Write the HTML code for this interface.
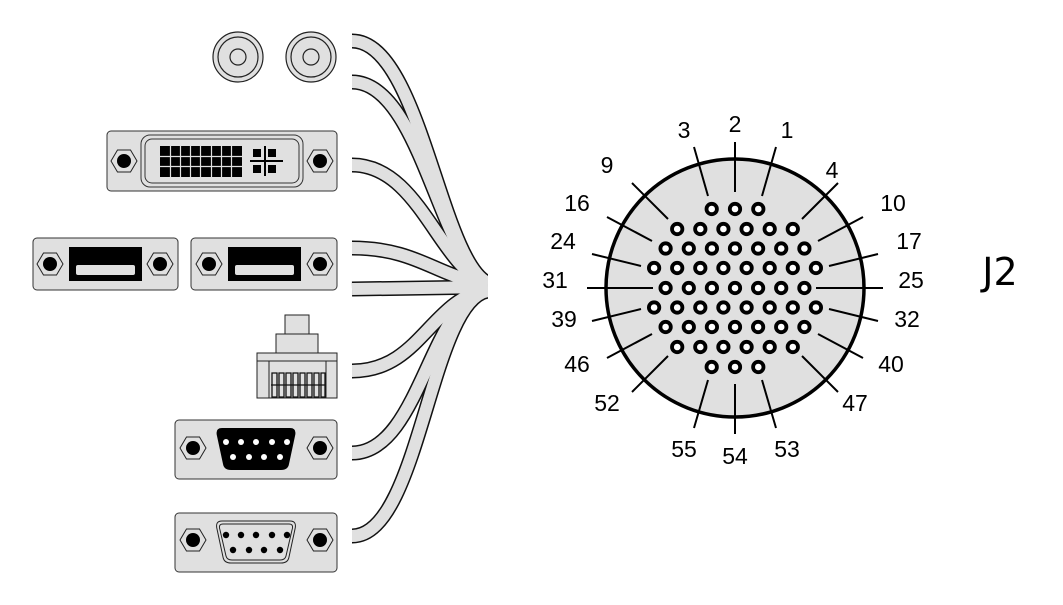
<!DOCTYPE html>
<html><head><meta charset="utf-8"><style>
html,body{margin:0;padding:0;background:#fff;}
svg{display:block;font-family:"Liberation Sans",sans-serif;}
</style></head><body>
<svg width="1063" height="605" viewBox="0 0 1063 605" xmlns="http://www.w3.org/2000/svg">
<defs>
<g id="hex"><polygon points="-13,0 -6.5,-11 6.5,-11 13,0 6.5,11 -6.5,11" fill="#e0e0e0" stroke="#222" stroke-width="1"/><circle r="7" fill="#000"/></g>
</defs>
<!-- cables -->
<g fill="none" stroke-linecap="butt">
<g stroke="#111" stroke-width="15">
<path d="M352,41 C420,41 440,260 488,283"/>
<path d="M352,82 C420,82 440,260 488,283"/>
<path d="M352,165 C420,165 440,270 488,283"/>
<path d="M352,248 C420,248 440,280 488,283"/>
<path d="M352,289 L488,287"/>
<path d="M352,371 C420,371 430,300 488,289"/>
<path d="M352,453 C420,453 430,300 488,290"/>
<path d="M352,536 C420,536 430,300 488,291"/>
</g>
<g stroke="#e0e0e0" stroke-width="12">
<path d="M352,41 C420,41 440,260 488,283"/>
<path d="M352,82 C420,82 440,260 488,283"/>
<path d="M352,165 C420,165 440,270 488,283"/>
<path d="M352,248 C420,248 440,280 488,283"/>
<path d="M352,289 L488,287"/>
<path d="M352,371 C420,371 430,300 488,289"/>
<path d="M352,453 C420,453 430,300 488,290"/>
<path d="M352,536 C420,536 430,300 488,291"/>
</g>
</g>
<rect x="488" y="270" width="20" height="30" fill="#fff"/>
<!-- coax -->
<g fill="#e0e0e0" stroke="#222" stroke-width="1.2">
<circle cx="238" cy="57" r="25"/><circle cx="238" cy="57" r="20"/><circle cx="238" cy="57" r="8"/>
<circle cx="311" cy="57" r="25"/><circle cx="311" cy="57" r="20"/><circle cx="311" cy="57" r="8"/>
</g>
<!-- DVI -->
<rect x="107" y="131" width="230" height="60" rx="4" fill="#e0e0e0" stroke="#333"/>
<rect x="141" y="135" width="162" height="52" rx="9" fill="#e0e0e0" stroke="#333"/>
<rect x="145" y="139" width="154" height="44" rx="7" fill="none" stroke="#333"/>
<use href="#hex" x="124" y="161"/><use href="#hex" x="320" y="161"/>
<rect x="160" y="146" width="82" height="31" fill="#000"/>
<g stroke="#e0e0e0" stroke-width="1.2">
<path d="M160,156.5H242M160,166.5H242"/>
<path d="M170.5,146V177M180.5,146V177M190.5,146V177M200.5,146V177M211.5,146V177M221.5,146V177M231.5,146V177"/>
</g>
<g fill="#000"><rect x="253" y="149" width="8" height="8"/><rect x="268" y="149" width="8" height="8"/><rect x="253" y="165" width="8" height="8"/><rect x="268" y="165" width="8" height="8"/><rect x="250" y="160" width="33" height="2"/><rect x="264" y="146" width="2" height="30"/></g>
<!-- DP -->
<rect x="33" y="238" width="145" height="52" rx="4" fill="#e0e0e0" stroke="#333"/>
<rect x="191" y="238" width="146" height="52" rx="4" fill="#e0e0e0" stroke="#333"/>
<use href="#hex" x="50" y="264"/><use href="#hex" x="160" y="264"/>
<use href="#hex" x="209" y="264"/><use href="#hex" x="320" y="264"/>
<rect x="69" y="247" width="73" height="34" fill="#000"/><rect x="76" y="265" width="59" height="10" rx="2" fill="#e0e0e0"/>
<rect x="228" y="247" width="73" height="34" fill="#000"/><rect x="235" y="265" width="59" height="10" rx="2" fill="#e0e0e0"/>
<!-- RJ45 -->
<g fill="#e0e0e0" stroke="#222" stroke-width="1">
<rect x="285" y="315" width="24" height="19"/>
<rect x="276" y="334" width="42" height="19"/>
<rect x="257" y="353" width="80" height="45"/>
<path d="M257,361H337M269,361V398M326,361V398"/>
</g>
<g fill="none" stroke="#111" stroke-width="1.3">
<path d="M272,373h5v24h-5zM279,373h5v24h-5zM286,373h5v24h-5zM293,373h5v24h-5zM300,373h5v24h-5zM307,373h5v24h-5zM314,373h5v24h-5zM321,373h4v24h-4z"/>
<path d="M271,385H325"/>
</g>
<!-- DB9 male -->
<rect x="175" y="420" width="162" height="59" rx="4" fill="#e0e0e0" stroke="#333"/>
<use href="#hex" x="193" y="448"/><use href="#hex" x="320" y="448"/>
<path d="M222,428 H290 Q297,428 295,436 L289,464 Q288,470 281,470 H231 Q224,470 223,464 L217,436 Q215,428 222,428Z" fill="#000"/>
<g fill="#fff"><circle cx="226" cy="442" r="3"/><circle cx="241" cy="442" r="3"/><circle cx="256" cy="442" r="3"/><circle cx="272" cy="442" r="3"/><circle cx="287" cy="442" r="3"/><circle cx="233" cy="457" r="3"/><circle cx="249" cy="457" r="3"/><circle cx="264" cy="457" r="3"/><circle cx="280" cy="457" r="3"/></g>
<!-- DB9 female -->
<rect x="175" y="513" width="162" height="59" rx="4" fill="#e0e0e0" stroke="#333"/>
<use href="#hex" x="193" y="540"/><use href="#hex" x="320" y="540"/>
<path d="M222,521 H290 Q297,521 295,529 L289,557 Q288,563 281,563 H231 Q224,563 223,557 L217,529 Q215,521 222,521Z" fill="none" stroke="#222" stroke-width="1"/>
<path d="M223,524 H289 Q294,524 292,530 L286,556 Q285,560 280,560 H232 Q227,560 226,556 L220,530 Q218,524 223,524Z" fill="none" stroke="#222" stroke-width="1"/>
<g fill="#000"><circle cx="226" cy="535" r="3.2"/><circle cx="241" cy="535" r="3.2"/><circle cx="256" cy="535" r="3.2"/><circle cx="272" cy="535" r="3.2"/><circle cx="287" cy="535" r="3.2"/><circle cx="233" cy="550" r="3.2"/><circle cx="249" cy="550" r="3.2"/><circle cx="264" cy="550" r="3.2"/><circle cx="280" cy="550" r="3.2"/></g>
<!-- J2 circle -->
<circle cx="735" cy="288" r="129" fill="#e0e0e0" stroke="#000" stroke-width="3.5"/>
<g stroke="#000" stroke-width="2">
<path d="M708,196L694,147M735,192V142M762,196L776,147M802,219L838,183M818,241L863,217M829,266L878,254M816,288H883M829,309L878,321M818,334L863,358M802,356L838,392M762,380L776,428M735,384V434M708,380L694,428M668,356L632,392M652,334L607,358M641,309L592,321M653,288H587M641,266L592,254M652,241L607,217M668,219L632,183"/>
</g>
<g fill="#fff" stroke="#000" stroke-width="3.8">
<circle cx="711.7" cy="209" r="5.2"/><circle cx="735" cy="209" r="5.2"/><circle cx="758.3" cy="209" r="5.2"/>
<circle cx="677.2" cy="229" r="5.2"/><circle cx="700.3" cy="229" r="5.2"/><circle cx="723.4" cy="229" r="5.2"/><circle cx="746.6" cy="229" r="5.2"/><circle cx="769.7" cy="229" r="5.2"/><circle cx="792.8" cy="229" r="5.2"/>
<circle cx="665.6" cy="248.5" r="5.2"/><circle cx="688.8" cy="248.5" r="5.2"/><circle cx="711.9" cy="248.5" r="5.2"/><circle cx="735" cy="248.5" r="5.2"/><circle cx="758.1" cy="248.5" r="5.2"/><circle cx="781.2" cy="248.5" r="5.2"/><circle cx="804.4" cy="248.5" r="5.2"/>
<circle cx="654.1" cy="268" r="5.2"/><circle cx="677.2" cy="268" r="5.2"/><circle cx="700.3" cy="268" r="5.2"/><circle cx="723.4" cy="268" r="5.2"/><circle cx="746.6" cy="268" r="5.2"/><circle cx="769.7" cy="268" r="5.2"/><circle cx="792.8" cy="268" r="5.2"/><circle cx="815.9" cy="268" r="5.2"/>
<circle cx="665.6" cy="288" r="5.2"/><circle cx="688.8" cy="288" r="5.2"/><circle cx="711.9" cy="288" r="5.2"/><circle cx="735" cy="288" r="5.2"/><circle cx="758.1" cy="288" r="5.2"/><circle cx="781.2" cy="288" r="5.2"/><circle cx="804.4" cy="288" r="5.2"/>
<circle cx="654.1" cy="307.5" r="5.2"/><circle cx="677.2" cy="307.5" r="5.2"/><circle cx="700.3" cy="307.5" r="5.2"/><circle cx="723.4" cy="307.5" r="5.2"/><circle cx="746.6" cy="307.5" r="5.2"/><circle cx="769.7" cy="307.5" r="5.2"/><circle cx="792.8" cy="307.5" r="5.2"/><circle cx="815.9" cy="307.5" r="5.2"/>
<circle cx="665.6" cy="327" r="5.2"/><circle cx="688.8" cy="327" r="5.2"/><circle cx="711.9" cy="327" r="5.2"/><circle cx="735" cy="327" r="5.2"/><circle cx="758.1" cy="327" r="5.2"/><circle cx="781.2" cy="327" r="5.2"/><circle cx="804.4" cy="327" r="5.2"/>
<circle cx="677.2" cy="347" r="5.2"/><circle cx="700.3" cy="347" r="5.2"/><circle cx="723.4" cy="347" r="5.2"/><circle cx="746.6" cy="347" r="5.2"/><circle cx="769.7" cy="347" r="5.2"/><circle cx="792.8" cy="347" r="5.2"/>
<circle cx="711.7" cy="367" r="5.2"/><circle cx="735" cy="367" r="5.2"/><circle cx="758.3" cy="367" r="5.2"/>
</g>
<g font-size="23" fill="#000" text-anchor="middle">
<text x="684" y="138">3</text><text x="735" y="132">2</text><text x="787" y="138">1</text>
<text x="832" y="178">4</text><text x="893" y="211">10</text><text x="909" y="249">17</text>
<text x="911" y="288">25</text><text x="907" y="327">32</text><text x="891" y="372">40</text>
<text x="855" y="411">47</text><text x="787" y="457">53</text><text x="735" y="464">54</text>
<text x="684" y="457">55</text><text x="607" y="411">52</text><text x="577" y="372">46</text>
<text x="564" y="327">39</text><text x="555" y="288">31</text><text x="563" y="249">24</text>
<text x="577" y="211">16</text><text x="607" y="173">9</text>
</g>
<text x="1000" y="285" font-size="38" text-anchor="middle" fill="#000" font-family="'DejaVu Sans','Liberation Sans',sans-serif">J2</text>
</svg>
</body></html>
